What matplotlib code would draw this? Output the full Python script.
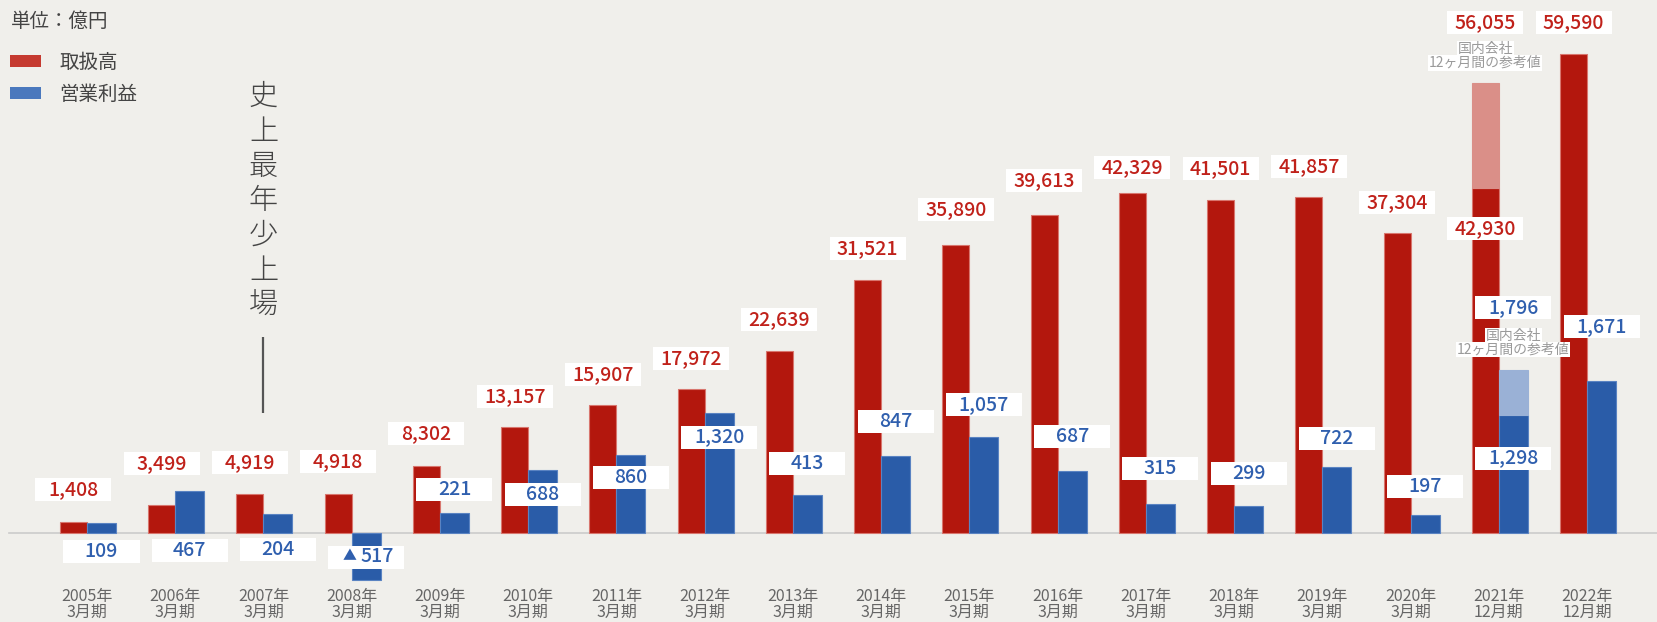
import matplotlib.pyplot as plt
import matplotlib.transforms as mtransforms
from matplotlib.patches import Rectangle, Patch
import numpy as np

plt.rcParams["font.family"] = ["Noto Sans CJK JP", "DejaVu Sans"]

periods = ["2005年\n3月期", "2006年\n3月期", "2007年\n3月期", "2008年\n3月期",
           "2009年\n3月期", "2010年\n3月期", "2011年\n3月期", "2012年\n3月期",
           "2013年\n3月期", "2014年\n3月期", "2015年\n3月期", "2016年\n3月期",
           "2017年\n3月期", "2018年\n3月期", "2019年\n3月期", "2020年\n3月期",
           "2021年\n12月期", "2022年\n12月期"]
gmv = [1408, 3499, 4919, 4918, 8302, 13157, 15907, 17972, 22639,
       31521, 35890, 39613, 42329, 41501, 41857, 37304, 42930, 59590]
profit = [109, 467, 204, -517, 221, 688, 860, 1320, 413,
          847, 1057, 687, 315, 299, 722, 197, 1298, 1671]
# 2021年12月期: 国内会社 12ヶ月間の参考値
gmv_ref = 56055
profit_ref = 1796
ref_note = ["国内会社", "12ヶ月間の参考値"]

# label offsets from bar top, in pixels (positive = above)
gmv_dy = [32, 41, 31, 32, 33, 31, 31, 30, 32, 31, 35, 34, 26, 31, 30, 31, -40, 32]
profit_dy = [-28, -60, -35, -24, 23, -24, -23, -24, 32, 35, 32, 34, 36, 32, 29, 29, -43, 55]

RED, RED_EDGE, RED_LIGHT, RED_TXT = "#b3170d", "#d8766e", "#da8f88", "#c0211a"
BLUE, BLUE_EDGE, BLUE_LIGHT, BLUE_TXT = "#2a5ca8", "#5a83c2", "#9ab1d6", "#2f5fae"
BG = "#f0efeb"

W, H, DPI = 1658, 622, 100
base_px = 89          # baseline height from bottom
red_px = 0.00803      # px per 億円 (取扱高)
blue_px = 0.0909      # px per 億円 (営業利益)
step_px = 88.24
first_px = 87

fig = plt.figure(figsize=(W / DPI, H / DPI), dpi=DPI, facecolor=BG)
ax = fig.add_axes([0, 0, 1, 1], facecolor=BG)
ax2 = ax.twinx()

x = np.arange(len(periods))
rw = 27 / step_px
bw = 29 / step_px

ax.bar(x - rw / 2, gmv, rw, color=RED, edgecolor=RED_EDGE, linewidth=0.8, zorder=2)
ax.bar(x[16] - rw / 2, gmv_ref - gmv[16], rw, bottom=gmv[16], color=RED_LIGHT,
       edgecolor=RED_LIGHT, linewidth=0.8, zorder=2)
ax2.bar(x + bw / 2, profit, bw, color=BLUE, edgecolor=BLUE_EDGE, linewidth=0.8, zorder=2)
ax2.bar(x[16] + bw / 2, profit_ref - profit[16], bw, bottom=profit[16], color=BLUE_LIGHT,
        edgecolor=BLUE_LIGHT, linewidth=0.8, zorder=2)

ax.axhline(0, xmin=9 / W, color="#cbcbcb", linewidth=1.2, zorder=1)


def tag(axis, xv, yv, dy, text, color):
    trans = fig.dpi_scale_trans + mtransforms.ScaledTranslation(xv, yv, axis.transData)
    axis.add_patch(Rectangle((-0.38, dy / 100 - 0.115), 0.76, 0.23, transform=trans,
                             facecolor="white", edgecolor="none", zorder=4))
    kw = dict(textcoords="offset points", ha="center", va="center", color=color,
              fontsize=14, fontweight="medium", zorder=5)
    if text.startswith("▲"):
        axis.annotate("▲", (xv, yv), xytext=(-17 * 0.72, dy * 0.72 + 0.5), **{**kw, "fontsize": 10})
        axis.annotate(text[1:].strip(), (xv, yv), xytext=(11 * 0.72, dy * 0.72), **kw)
    else:
        axis.annotate(text, (xv, yv), xytext=(0, dy * 0.72), **kw)


def note(axis, xv, yv, color="#9a9a9a"):
    for line, dy in zip(ref_note, (34, 20)):
        axis.annotate(line, (xv, yv), xytext=(0, dy * 0.72), textcoords="offset points",
                      ha="center", va="center", color=color, fontsize=10,
                      bbox=dict(boxstyle="square,pad=0.05", fc="white", ec="none"),
                      zorder=5)


for i, v in enumerate(gmv):
    tag(ax, x[i] - rw / 2, v, gmv_dy[i], f"{v:,}", RED_TXT)
tag(ax, x[16] - rw / 2, gmv_ref, 60, f"{gmv_ref:,}", RED_TXT)
note(ax, x[16] - rw / 2, gmv_ref)

for i, v in enumerate(profit):
    txt = f"▲ {-v:,}" if v < 0 else f"{v:,}"
    tag(ax2, x[i] + bw / 2, max(v, 0), profit_dy[i], txt, BLUE_TXT)
tag(ax2, x[16] + bw / 2, profit_ref, 62, f"{profit_ref:,}", BLUE_TXT)
note(ax2, x[16] + bw / 2, profit_ref)

# 史上最年少上場
vtrans = mtransforms.blended_transform_factory(ax.transData, ax.transAxes)
for k, ch in enumerate("史上最年少上場"):
    ax.text(2, 1 - (97 + 34.7 * k) / H, ch, transform=vtrans, ha="center", va="center",
            fontsize=21, fontweight="light", color="#444444")
ax.plot([2, 2], [1 - 337 / H, 1 - 413 / H], transform=vtrans, color="#555555",
        linewidth=1.6, solid_capstyle="butt")

# 単位 and legend
fig.text(11 / W, 1 - 21 / H, "単位：億円", ha="left", va="center", fontsize=14, color="#444444")
handles = [Patch(facecolor="#c53a30", label="取扱高"), Patch(facecolor="#4a78bd", label="営業利益")]
ax.legend(handles=handles, loc="upper left", bbox_to_anchor=(10 / W, 1 - 52 / H),
          bbox_transform=fig.transFigure, frameon=False, fontsize=14, labelcolor="#444444",
          handlelength=1.6, handleheight=0.55, handletextpad=0.95, labelspacing=0.55,
          borderpad=0, borderaxespad=0)

ax.set_xticks(x, periods)
ax.tick_params(axis="x", length=0, pad=-24.5, labelsize=11.5, labelcolor="#666666")
for lbl in ax.get_xticklabels():
    lbl.set_linespacing(0.95)
ax.tick_params(axis="y", left=False, labelleft=False)
for s in ax.spines.values():
    s.set_visible(False)
ax2.axis("off")

ax.set_xlim(-first_px / step_px, (W - first_px) / step_px)
ax.set_ylim(-base_px / red_px, (H - base_px) / red_px)
ax2.set_ylim(-base_px / blue_px, (H - base_px) / blue_px)

fig.savefig("out.png", dpi=DPI, facecolor=BG)
